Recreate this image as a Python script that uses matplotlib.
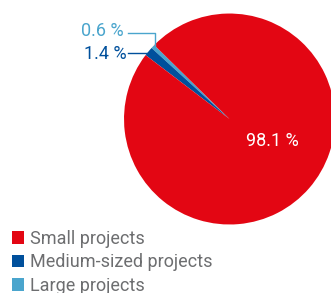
import matplotlib.pyplot as plt

# data
labels = ["Large projects", "Medium-sized projects", "Small projects"]
shares = [0.6, 1.4, 98.1]
share_text = ["0.6 %", "1.4 %", "98.1 %"]
colors = ["#4aa5cd", "#00509c", "#e30613"]
legend_order = [2, 1, 0]

plt.rcParams["font.family"] = ["Roboto", "DejaVu Sans"]

fig = plt.figure(figsize=(3.31, 2.93), dpi=100)
ax = fig.add_axes([0.3746, 0.2338, 0.6375, 0.720])

wedges, _ = ax.pie(shares, colors=colors, startangle=135.5, counterclock=True,
                   radius=1, wedgeprops=dict(linewidth=0))
ax.set_xlim(-1, 1)
ax.set_ylim(-1, 1)
ax.set_aspect("equal")
ax.axis("off")

# leader lines and labels for the small slices
ax.plot([-0.962, -0.706, -0.706], [0.812, 0.812, 0.685], color=colors[0], lw=1, clip_on=False)
ax.plot([-0.962, -0.754], [0.623, 0.623], color=colors[1], lw=1, clip_on=False)
ax.text(-1.0, 0.83, share_text[0], color=colors[0], fontsize=13, ha="right", va="center")
ax.text(-0.98, 0.613, share_text[1], color=colors[1], fontsize=13, ha="right", va="center")
ax.text(0.405, -0.21, share_text[2], color="white", fontsize=13, ha="center", va="center")

fig.legend([wedges[i] for i in legend_order], [labels[i] for i in legend_order],
           loc="upper left", bbox_to_anchor=(0.035, 0.215), frameon=False,
           fontsize=13, labelcolor="#6d6e70", handlelength=0.68, handleheight=0.68,
           handletextpad=0.32, labelspacing=0.3, borderpad=0, borderaxespad=0)

fig.savefig("out.png", dpi=100)
